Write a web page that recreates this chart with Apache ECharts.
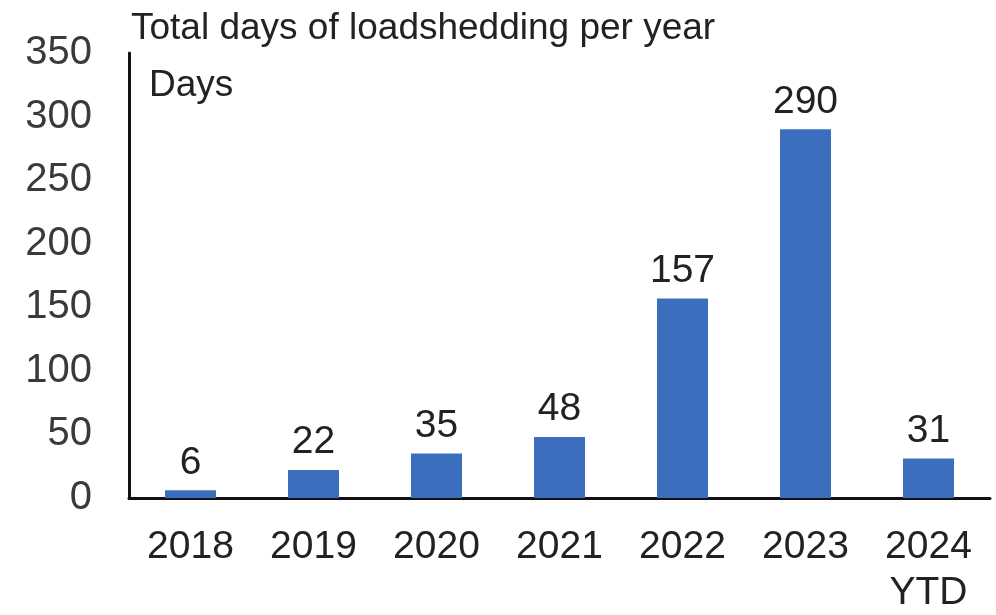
<!DOCTYPE html>
<html>
<head>
<meta charset="utf-8">
<script src="https://cdn.jsdelivr.net/npm/echarts@6/dist/echarts.min.js"></script>
<style>html,body{margin:0;padding:0;background:#fff}#c{width:996px;height:615px}</style>
</head>
<body>
<div id="c"></div>
<script>
const categories = ['2018', '2019', '2020', '2021', '2022', '2023', '2024\nYTD'];
const days = [6, 22, 35, 48, 157, 290, 31];
const yTicks = [0, 50, 100, 150, 200, 250, 300, 350];

const chart = echarts.init(document.getElementById('c'));
const font = '"Liberation Sans", Arial, sans-serif';
chart.setOption({
  animation: false,
  textStyle: { fontFamily: font },
  title: [
    { text: 'Total days of loadshedding per year', left: 126, top: 5,
      textStyle: { fontSize: 37, fontWeight: 'normal', color: '#222', fontFamily: font } },
    { text: 'Days', left: 144, top: 62,
      textStyle: { fontSize: 37, fontWeight: 'normal', color: '#222', fontFamily: font } }
  ],
  grid: { left: 129, right: 6, top: 53, bottom: 117, outerBoundsMode: 'none', containLabel: false },
  xAxis: {
    type: 'category',
    data: categories,
    axisLine: { lineStyle: { color: '#111', width: 3 } },
    axisTick: { show: false },
    axisLabel: { fontSize: 39, color: '#222', margin: 26, lineHeight: 46, fontFamily: font }
  },
  yAxis: {
    type: 'value',
    min: yTicks[0], max: yTicks[yTicks.length - 1], interval: 50,
    axisLine: { show: true, lineStyle: { color: '#111', width: 3 } },
    axisTick: { show: false },
    splitLine: { show: false },
    axisLabel: { fontSize: 40, color: '#3a3a3a', margin: 37, fontFamily: font }
  },
  series: [{
    type: 'bar',
    data: days,
    barWidth: 51,
    itemStyle: { color: '#3b6fbe' },
    label: { show: true, position: 'top', distance: 8, fontSize: 39, color: '#222', fontFamily: font }
  }]
});
</script>
</body>
</html>
